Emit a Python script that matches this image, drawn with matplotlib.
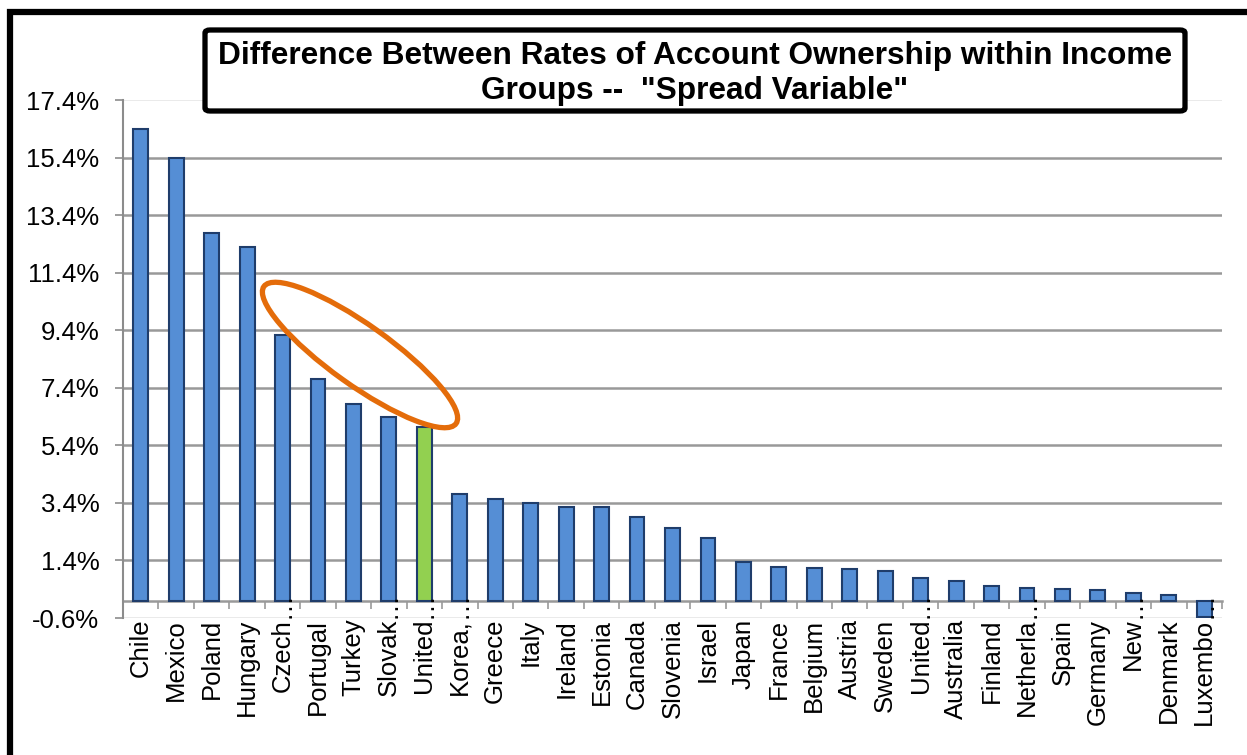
import matplotlib
matplotlib.use('Agg')
import matplotlib.pyplot as plt
from matplotlib.patches import Rectangle, Ellipse, FancyBboxPatch
from matplotlib.ticker import FixedLocator

plt.rcParams['font.family'] = ['Liberation Sans', 'DejaVu Sans']

# Spread of account ownership rates between income groups (%)
# names ending in '...' are cut short on the axis, as in the original
countries = ['Chile', 'Mexico', 'Poland', 'Hungary', 'Czech...', 'Portugal', 'Turkey',
             'Slovak...', 'United...', 'Korea,...', 'Greece', 'Italy', 'Ireland',
             'Estonia', 'Canada', 'Slovenia', 'Israel', 'Japan', 'France', 'Belgium',
             'Austria', 'Sweden', 'United...', 'Australia', 'Finland', 'Netherla...',
             'Spain', 'Germany', 'New...', 'Denmark', 'Luxembo...']
spread = [16.38, 15.37, 12.77, 12.29, 9.22, 7.71, 6.85,
          6.39, 6.05, 3.70, 3.54, 3.41, 3.27,
          3.26, 2.92, 2.54, 2.19, 1.33, 1.18, 1.15,
          1.10, 1.04, 0.78, 0.69, 0.51, 0.44,
          0.41, 0.37, 0.28, 0.19, -0.58]
highlight_idx = 8   # first "United..." bar drawn in green

y_ticks = [-0.6, 1.4, 3.4, 5.4, 7.4, 9.4, 11.4, 13.4, 15.4, 17.4]

title = 'Difference Between Rates of Account Ownership within Income\nGroups --  "Spread Variable"'

fig = plt.figure(figsize=(12.47, 7.55), dpi=100)
ax = fig.add_axes([123 / 1247, 1 - 618 / 755, (1222 - 123) / 1247, (618 - 100) / 755])

colors = ['#558ED5'] * len(spread)
colors[highlight_idx] = '#92D050'
x = list(range(len(countries)))
ax.bar(x, spread, width=0.42, color=colors, edgecolor='#1F3D6B', linewidth=1.5, zorder=3)

ax.set_xlim(-0.5, len(countries) - 0.5)
ax.set_ylim(-0.6, 17.4)
ax.set_yticks(y_ticks)
ax.set_yticklabels(['%.1f%%' % v for v in y_ticks], fontsize=18.5)
ax.tick_params(axis='y', direction='out', length=5.5, width=1.2, color='#8C8C8C', pad=11.5)

# gridlines: darker inside, light on the top and bottom edges
for v in y_ticks:
    light = v in (-0.6, 17.4)
    ax.axhline(v, color='#E6E6E6' if light else '#999999', linewidth=1.2 if light else 1.8, zorder=1)

# category axis sits at zero
ax.spines['top'].set_visible(False)
ax.spines['right'].set_visible(False)
ax.spines['left'].set_color('#8C8C8C')
ax.spines['left'].set_linewidth(1.5)
ax.spines['bottom'].set_position(('data', 0))
ax.spines['bottom'].set_color('#999999')
ax.spines['bottom'].set_linewidth(1.8)
ax.spines['bottom'].set_zorder(2)
ax.set_xticks(x)
short = [c.replace('...', '') for c in countries]
ax.set_xticklabels(short, rotation=90, fontsize=18.5, va='top')
ax.xaxis.set_minor_locator(FixedLocator([i + 0.5 for i in range(-1, len(countries))]))
ax.tick_params(axis='x', which='major', length=0, pad=13)
ax.tick_params(axis='x', which='minor', direction='out', length=5.5, width=1.2, color='#999999')

# the ellipsis of cut names runs up above the label, into the plot
for i, c in enumerate(countries):
    if c.endswith('...'):
        ax.text(i, -0.6, '\u2026', rotation=90, ha='center', va='bottom', fontsize=18.5, zorder=4)

# outer frame
fig.patches.append(Rectangle((10 / 1247, -0.2), 1.2, 1.2 - 12 / 755, transform=fig.transFigure,
                             fill=False, edgecolor='black', linewidth=4.5, zorder=0))

# title box
bx0, bx1, by0, by1 = 205 / 1247, 1185 / 1247, 1 - 111 / 755, 1 - 30 / 755
fig.patches.append(FancyBboxPatch((bx0, by0), bx1 - bx0, by1 - by0, boxstyle='round,pad=0,rounding_size=0.004',
                                  transform=fig.transFigure, facecolor='white', edgecolor='black',
                                  linewidth=3.8, zorder=5))
fig.text((bx0 + bx1) / 2, (by0 + by1) / 2 - 0.004, title, ha='center', va='center', fontsize=22.8,
         fontweight='bold', linespacing=1.25, zorder=6)

# orange ellipse around the middle group of bars
ell = Ellipse((3.60, 7.55 - 3.55), 2.36, 0.60, angle=-35.5, transform=fig.dpi_scale_trans,
              fill=False, edgecolor='#E46C0A', linewidth=3.8, zorder=7)
fig.patches.append(ell)

fig.savefig('out.png', dpi=100)
